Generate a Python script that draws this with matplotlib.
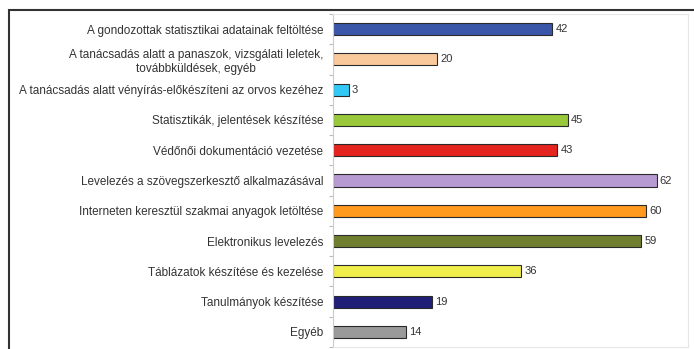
import matplotlib.pyplot as plt
from matplotlib.patches import Rectangle

labels = [
    "A gondozottak statisztikai adatainak feltöltése",
    "A tanácsadás alatt a panaszok, vizsgálati leletek,\ntovábbküldések, egyéb",
    "A tanácsadás alatt vényírás-előkészíteni az orvos kezéhez",
    "Statisztikák, jelentések készítése",
    "Védőnői dokumentáció vezetése",
    "Levelezés a szövegszerkesztő alkalmazásával",
    "Interneten keresztül szakmai anyagok letöltése",
    "Elektronikus levelezés",
    "Táblázatok készítése és kezelése",
    "Tanulmányok készítése",
    "Egyéb",
]
values = [42, 20, 3, 45, 43, 62, 60, 59, 36, 19, 14]
colors = ["#3a56a8", "#f9c89b", "#33c8f5", "#99c93a", "#e5231f", "#b89ad2",
          "#ff9a1f", "#6f7f2f", "#f0ee4a", "#1f1f78", "#9a9a9a"]

plt.rcParams['font.family'] = ['Liberation Sans', 'DejaVu Sans']

fig = plt.figure(figsize=(6.94, 3.49), dpi=100)
ax = fig.add_axes([333 / 694, 2 / 349, 355 / 694, 333 / 349])

pos = list(range(len(values)))
ax.barh(pos, values, height=0.4, color=colors, edgecolor="#2a2a2a", linewidth=0.8)
for y, v in zip(pos, values):
    ax.text(v + 0.6, y, str(v), va="center", ha="left", fontsize=8, color="#333333")

ax.set_ylim(len(values) - 0.5, -0.5)
ax.set_xlim(0, 68)
ax.set_yticks(pos)
ax.set_yticklabels(labels, fontsize=8.5, color="#333333")
for t in ax.get_yticklabels():
    t.set_multialignment("center")
ax.tick_params(axis="y", length=0, pad=7)

# small ticks between the categories
ax.set_yticks([i + 0.5 for i in range(-1, len(values))], minor=True)
ax.tick_params(axis="y", which="minor", length=3, color="#bbbbbb", width=0.8)
ax.set_xticks([])

for side in ["top", "bottom", "right"]:
    ax.spines[side].set_color("#e6e6e6")
ax.spines["left"].set_color("#cccccc")

# outer frame around the whole chart
fig.patches.append(Rectangle((8.5 / 694, -0.1), 1.2, 1 - 10 / 349 + 0.1,
                             transform=fig.transFigure, fill=False,
                             edgecolor="#333333", linewidth=1.5))

fig.savefig("out.png", dpi=100, facecolor="white")
